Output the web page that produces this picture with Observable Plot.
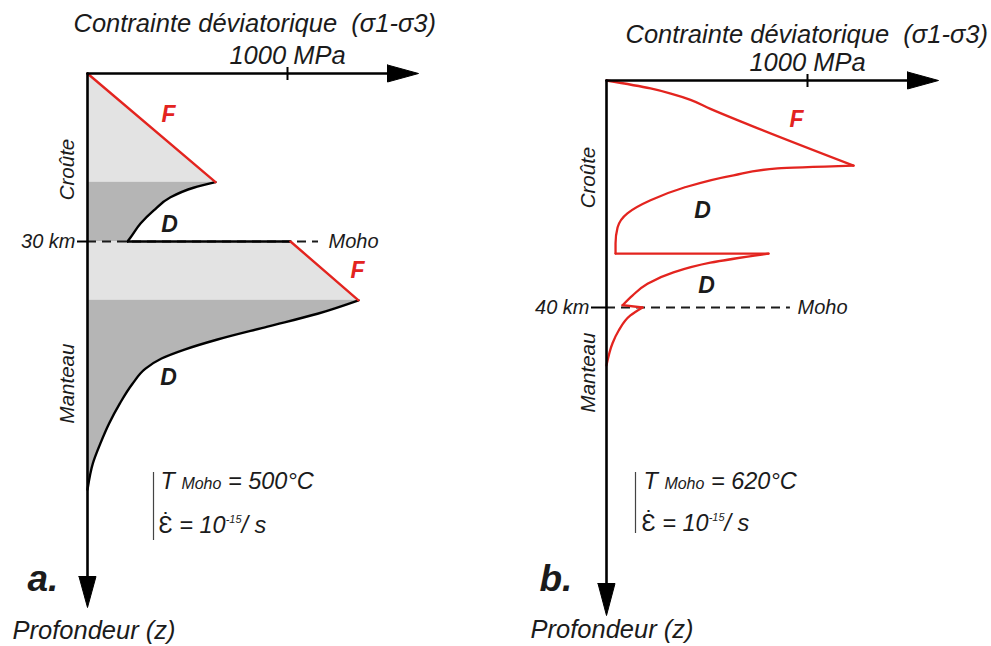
<!DOCTYPE html>
<html><head><meta charset="utf-8">
<script src="https://cdn.jsdelivr.net/npm/d3@7"></script>
<script src="https://cdn.jsdelivr.net/npm/@observablehq/plot@0.6"></script>
<style>
html,body{margin:0;padding:0;background:#fff}
#wrap{position:relative;width:991px;height:646px;overflow:hidden}
#wrap svg{position:absolute;left:0;top:0}
</style></head><body><div id="wrap"></div>
<script>
// ---------- DATA (stress in MPa, depth in km) ----------
// Panel a : T Moho = 500°C, Moho at 30 km
const aMoho = 30;
const aCrustFriction = [[0, 0], [640, 19.4]];
const aCrustDuctile = [[640, 19.4], [530, 20.4], [415, 22.1], [330, 24.5], [265, 26.8], [215, 29.3], [200, 30]];
const aMantleFriction = [[1015, 30], [1355, 40.5]];
const aMantleDuctile = [[1355, 40.5], [1150, 42.9], [900, 45.2], [650, 47.5], [485, 49.3], [370, 50.9], [290, 52.7], [225, 55.4], [162, 58.9], [108, 62.5], [64, 66.1], [27, 69.6], [0, 74.3]];

// Panel b : T Moho = 620°C, Moho at 40 km (one red envelope, split in segments)
const bMoho = 40;
const bSeg1 = [[0, 0], [219, 1.4], [320, 2.3], [418, 3.4], [517, 5.0], [716, 7.9], [1229, 15.0]];
const bSeg2 = [[1229, 15.0], [851, 15.5], [632, 16.7], [383, 18.9], [219, 21.1], [104, 23.4], [55, 25.9], [45, 28.7], [45, 30.5]];
const bSeg3 = [[45, 30.5], [806, 30.5]];
const bSeg4 = [[806, 30.5], [517, 32.1], [333, 33.8], [204, 35.8], [129, 37.9], [80, 39.6]];
const bSeg5 = [[80, 39.6], [179, 40.0]];
const bSeg6 = [[179, 40.0], [119, 41.4], [60, 44.1], [30, 46.3], [0, 50.2]];

// Texts
const axisTitle = "Contrainte déviatorique  (σ1-σ3)";
const tickLabel = "1000 MPa";
const tickValue = 1000;
const depthTitle = "Profondeur (z)";
const aLabels = [
  {t: "F", s: 405, z: 7.3, red: true}, {t: "D", s: 410, z: 27.0},
  {t: "F", s: 1350, z: 35.2, red: true}, {t: "D", s: 405, z: 54.3}
];
const bLabels = [
  {t: "F", s: 945, z: 6.9, red: true}, {t: "D", s: 478, z: 22.9}, {t: "D", s: 498, z: 36.1}
];
const aTMoho = "500°C", bTMoho = "620°C";
const strainRate = "10", strainExp = "-15";

const FONT = "'Liberation Sans', Arial, Helvetica, sans-serif";
const RED = "#e3241f", LIGHT = "#e3e3e3", DARK = "#b5b5b5", INK = "#1b1b1b";
const CURVE = "monotone-y";
const pts = a => a.map(([s, z]) => ({s, z}));

function panel(cfg) {
  const kx = cfg.pxPerMPa, ky = cfg.pxPerKm;
  const S = px => px / kx, Z = px => px / ky; // pixel lengths -> data lengths
  const xEnd = S(cfg.xArrowBase), yEnd = Z(cfg.yArrowBase);
  const xTip = S(cfg.xArrowTip), yTip = Z(cfg.yArrowTip);
  const arrowX = [{s: xEnd, z: -Z(8.5)}, {s: xTip, z: 0}, {s: xEnd, z: Z(8.5)}, {s: xEnd, z: -Z(8.5)}];
  const arrowY = [{s: -S(8.5), z: yEnd}, {s: 0, z: yTip}, {s: S(8.5), z: yEnd}, {s: -S(8.5), z: yEnd}];
  const marks = [
    ...cfg.under,
    Plot.ruleY([cfg.moho], {y: d => d, x1: 0, x2: cfg.dashEnd, stroke: INK, strokeWidth: 2, strokeDasharray: "9,6"}),
    ...cfg.over,
    // axes
    Plot.line([{s: 0, z: 0}, {s: xEnd, z: 0}], {x: "s", y: "z", stroke: "#000", strokeWidth: 2.6}),
    Plot.line([{s: 0, z: 0}, {s: 0, z: yEnd}], {x: "s", y: "z", stroke: "#000", strokeWidth: 2.6}),
    Plot.line(arrowX, {x: "s", y: "z", fill: "#000", stroke: "#000", strokeWidth: 1}),
    Plot.line(arrowY, {x: "s", y: "z", fill: "#000", stroke: "#000", strokeWidth: 1}),
    Plot.ruleX([tickValue], {x: d => d, y1: -Z(6), y2: Z(7), stroke: "#000", strokeWidth: 2}),
    Plot.ruleY([cfg.moho], {y: d => d, x1: -S(cfg.depthTickLen), x2: S(1), stroke: "#000", strokeWidth: 2}),
    // texts
    Plot.text([axisTitle], {x: S(cfg.titleX), y: Z(cfg.titleY), text: d => d, textAnchor: "start", lineAnchor: "bottom", fontSize: 25.5, fontStyle: "italic", fill: INK}),
    Plot.text([tickLabel], {x: tickValue, y: Z(cfg.tickLabelY), text: d => d, textAnchor: "middle", lineAnchor: "bottom", fontSize: 25.5, fontStyle: "italic", fill: INK}),
    Plot.text([depthTitle], {x: S(cfg.depthTitleX), y: Z(cfg.depthTitleY), text: d => d, textAnchor: "start", lineAnchor: "bottom", fontSize: 25.5, fontStyle: "italic", fill: INK}),
    Plot.text([cfg.moho + " km"], {x: -S(cfg.depthTickLen + 2), y: cfg.moho, text: d => d, textAnchor: "end", fontSize: 20, fontStyle: "italic", fill: INK}),
    Plot.text(["Moho"], {x: S(cfg.mohoX), y: cfg.moho, text: d => d, textAnchor: "start", fontSize: 20, fontStyle: "italic", fill: INK}),
    Plot.text(["Croûte"], {x: -S(cfg.sideX), y: Z(cfg.crouteY), text: d => d, rotate: -90, fontSize: 20.5, fontStyle: "italic", fill: INK}),
    Plot.text(["Manteau"], {x: -S(cfg.sideX), y: Z(cfg.manteauY), text: d => d, rotate: -90, fontSize: 20.5, fontStyle: "italic", fill: INK}),
    Plot.text([cfg.letter], {x: S(cfg.letterX), y: Z(cfg.letterY), text: d => d, textAnchor: "start", lineAnchor: "bottom", fontSize: 37, fontWeight: "bold", fontStyle: "italic", fill: INK}),
    Plot.text(cfg.labels, {x: "s", y: "z", text: "t", fontSize: 23, fontWeight: "bold", fontStyle: "italic", fill: d => d.red ? RED : INK}),
    Plot.ruleX([0], {x: S(cfg.barX), y1: Z(cfg.barY1), y2: Z(cfg.barY2), stroke: "#444", strokeWidth: 1.2}),
    Plot.text(["T Moho = " + cfg.tMoho], {x: S(cfg.annX), y: Z(cfg.annY1), text: d => d, textAnchor: "start", lineAnchor: "bottom", fontSize: 23.5, fontStyle: "italic", fill: INK}),
    Plot.text(["RATE"], {x: S(cfg.annX - 2), y: Z(cfg.annY2), text: d => d, textAnchor: "start", lineAnchor: "bottom", fontSize: 23.5, fontStyle: "italic", fill: INK})
  ];
  const svg = Plot.plot({
    width: 991, height: 646, margin: 0,
    x: {domain: [0, 1000], range: [cfg.ox, cfg.ox + 1000 * kx]},
    y: {domain: [0, cfg.moho], range: [cfg.oy, cfg.oy + cfg.moho * ky]},
    axis: null,
    style: {background: "none", fontFamily: FONT, overflow: "visible"},
    marks
  });
  const sv = d3.select(svg);
  sv.selectAll("text").filter(function () { return this.textContent.startsWith("T Moho"); }).each(function () {
    const t = d3.select(this); t.text(null);
    t.append("tspan").text("T ");
    t.append("tspan").attr("font-size", 16).text("Moho");
    t.append("tspan").text(" = " + cfg.tMoho);
  });
  sv.selectAll("text").filter(function () { return this.textContent === "RATE"; }).each(function () {
    const t = d3.select(this); t.text(null);
    t.append("tspan").attr("font-style", "normal").text("\u0190\u0307");
    t.append("tspan").text(" = " + strainRate);
    t.append("tspan").attr("font-size", 11).attr("dy", -10).text(strainExp);
    t.append("tspan").attr("dy", 10).text("/ s");
  });
  return svg;
}

const gray = (arr, fill, curve) => Plot.areaX(pts(arr), {x1: 0, x2: "s", y: "z", fill, curve});

const svgA = panel({
  ox: 87, oy: 73, pxPerMPa: 0.2, pxPerKm: 5.6, moho: aMoho, dashEnd: 1155, letter: "a.", tMoho: aTMoho,
  xArrowBase: 300, xArrowTip: 331, yArrowBase: 503, yArrowTip: 534,
  depthTickLen: 10, mohoX: 241, sideX: 20, crouteY: 96, manteauY: 310,
  titleX: -14, titleY: -42, tickLabelY: -10, depthTitleX: -75, depthTitleY: 565,
  letterX: -60, letterY: 517, barX: 66, barY1: 399, barY2: 467, annX: 73, annY1: 415, annY2: 459,
  labels: aLabels,
  under: [
    gray(aCrustFriction, LIGHT, "linear"),
    gray(aCrustDuctile, DARK, CURVE),
    gray(aMantleFriction, LIGHT, "linear"),
    gray(aMantleDuctile, DARK, CURVE)
  ],
  over: [
    Plot.line([{s: aCrustDuctile.at(-1)[0], z: aMoho}, {s: aMantleFriction[0][0], z: aMoho}], {x: "s", y: "z", stroke: "#000", strokeWidth: 2.4}),
    Plot.line(pts(aCrustDuctile), {x: "s", y: "z", stroke: "#000", strokeWidth: 2.4, curve: CURVE}),
    Plot.line(pts(aMantleDuctile), {x: "s", y: "z", stroke: "#000", strokeWidth: 2.4, curve: CURVE}),
    Plot.line(pts(aCrustFriction), {x: "s", y: "z", stroke: RED, strokeWidth: 2.4}),
    Plot.line(pts(aMantleFriction), {x: "s", y: "z", stroke: RED, strokeWidth: 2.4})
  ]
});

const bAll = [bSeg1, bSeg2, bSeg3, bSeg4, bSeg5, bSeg6].flatMap((seg, i) => seg.map(([s, z]) => ({s, z, seg: i})));
const svgB = panel({
  ox: 606, oy: 80, pxPerMPa: 0.201, pxPerKm: 5.675, moho: bMoho, dashEnd: 915, letter: "b.", tMoho: bTMoho,
  xArrowBase: 301, xArrowTip: 332, yArrowBase: 503, yArrowTip: 535,
  depthTickLen: 15, mohoX: 191, sideX: 18, crouteY: 97, manteauY: 292,
  titleX: 19, titleY: -38, tickLabelY: -10, depthTitleX: -76, depthTitleY: 557,
  letterX: -67, letterY: 510, barX: 29, barY1: 392, barY2: 453, annX: 37, annY1: 408, annY2: 450,
  labels: bLabels,
  under: [],
  over: [
    Plot.line(bAll, {x: "s", y: "z", z: "seg", stroke: RED, strokeWidth: 2.3, curve: CURVE})
  ]
});

document.getElementById("wrap").append(svgA, svgB);
</script></body></html>
